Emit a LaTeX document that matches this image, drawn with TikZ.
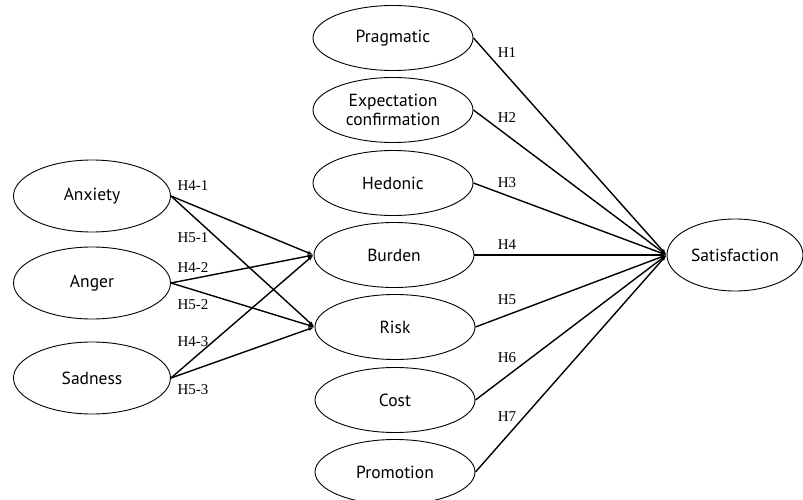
\documentclass[tikz,border=0pt]{standalone}
\usepackage{fontspec}
\setmainfont{Liberation Serif}
\setsansfont{PT Sans}
\usetikzlibrary{shapes.geometric,arrows.meta}
\begin{document}
\begin{tikzpicture}[x=1pt,y=-1pt,
  var/.style={ellipse,draw,line width=0.9pt,inner sep=0pt,align=center,
    font=\sffamily\fontsize{17.5}{19}\selectfont},
  lhs/.style={var,minimum width=157,minimum height=72},
  mid/.style={var,minimum width=160,minimum height=65},
  path/.style={line width=1.4pt,-{Latex[length=6pt,width=4pt]}},
  hyp/.style={inner sep=0pt,font=\fontsize{15}{16}\selectfont}]
\useasboundingbox (0,0) rectangle (803,500);
% emotions
\node[lhs] (anx) at (92,196) {Anxiety};
\node[lhs] (ang) at (92,283) {Anger};
\node[lhs] (sad) at (92,378) {Sadness};
% antecedents
\node[mid] (prag) at (393,38) {Pragmatic};
\node[mid] (exp) at (393,110) {Expectation\\confirmation};
\node[mid] (hed) at (393,183) {Hedonic};
\node[mid] (bur) at (394,255) {Burden};
\node[mid] (risk) at (395,327) {Risk};
\node[mid] (cost) at (395,400) {Cost};
\node[mid] (promo) at (395,472) {Promotion};
\node[var,minimum width=136,minimum height=72] (sat) at (735,255) {Satisfaction};
% emotion paths
\foreach \a in {anx,ang,sad}{
  \draw[path] (\a.east) -- (bur.west);
  \draw[path] (\a.east) -- (risk.west);
}
\foreach \m in {prag,exp,hed,bur,risk,cost,promo}
  \draw[path] (\m.east) -- (sat.west);
% hypothesis labels
\node[hyp] (h41) at (193,186) {H4-1};
\node[hyp] (h51) at (193,238) {H5-1};
\node[hyp] (h42) at (193,268) {H4-2};
\node[hyp] (h52) at (193,305) {H5-2};
\node[hyp] (h43) at (193,342) {H4-3};
\node[hyp] (h53) at (193,390) {H5-3};
\node[hyp] (h1) at (507,53) {H1};
\node[hyp] (h2) at (507,118) {H2};
\node[hyp] (h3) at (507,183) {H3};
\node[hyp] (h4) at (507,245) {H4};
\node[hyp] (h5) at (507,300) {H5};
\node[hyp] (h6) at (507,358) {H6};
\node[hyp] (h7) at (507,417) {H7};
\end{tikzpicture}
\end{document}
